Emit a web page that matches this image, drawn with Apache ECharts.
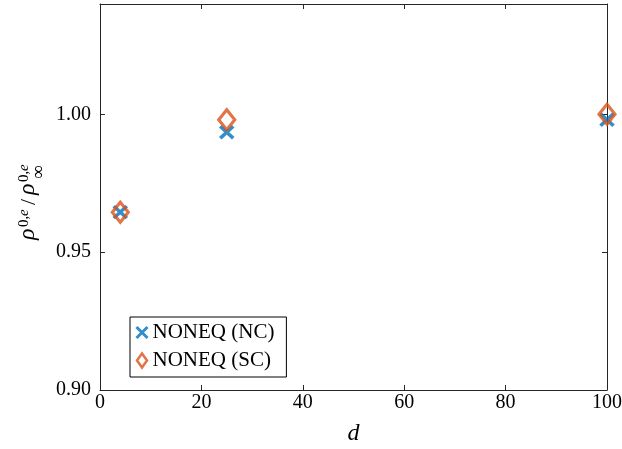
<!DOCTYPE html>
<html>
<head>
<meta charset="utf-8">
<script src="https://cdn.jsdelivr.net/npm/echarts@6/dist/echarts.min.js"></script>
<style>
  html, body { margin: 0; padding: 0; background: #fff; }
  #chart { width: 622px; height: 449px; }
</style>
</head>
<body>
<div id="chart"></div>
<script>
// Domain sizes and normalised densities
const dValues = [4, 25, 100];
const nonEqNC = [0.9645, 0.9935, 0.998];
const nonEqSC = [0.9645, 0.998, 1.000];
const xTicks = [0, 20, 40, 60, 80, 100];
const yTicks = [0.90, 0.95, 1.00];
const seriesNames = ['NONEQ (NC)', 'NONEQ (SC)'];

const BLUE = '#0072BD';
const ORANGE = '#D95319';
const AXIS = '#262626';
const FONT = '"Liberation Serif", "Times New Roman", serif';

const crossPath = 'path://M0,0L10,10M10,0L0,10';
const diamondPath = 'path://M5,0L10,7L5,14L0,7Z';

const toPairs = (xs, ys) => xs.map((x, i) => [x, ys[i]]);

const chart = echarts.init(document.getElementById('chart'), null, { renderer: 'canvas' });

const xBase = {
  type: 'value', min: 0, max: 100, interval: 20,
  axisLine: { show: true, onZero: false, lineStyle: { color: AXIS, width: 1 } },
  axisTick: { show: true, inside: true, length: 5, lineStyle: { color: AXIS } },
  splitLine: { show: false }
};
const yBase = {
  type: 'value', min: 0.90, max: 1.04, interval: 0.05,
  axisLine: { show: true, onZero: false, lineStyle: { color: AXIS, width: 1 } },
  axisTick: { show: true, inside: true, length: 5, lineStyle: { color: AXIS } },
  splitLine: { show: false }
};

// Rotated y-axis title: rho^{0,e} / rho^{0,e}_inf
const serif = (size, italic) => (italic ? 'italic ' : '') + size + 'px ' + FONT;
const txt = (text, x, y, font) => ({
  type: 'text', x: x, y: y,
  style: { text: text, font: font, fill: '#000', textVerticalAlign: 'bottom' }
});
const yTitle = {
  type: 'group',
  x: 40, y: 240,
  rotation: Math.PI / 2,
  children: [
    txt('ρ', 0, 0, serif(24, true)),
    txt('0,', 13, -8, serif(15, false)),
    txt('e', 24, -8, serif(15, true)),
    txt('/', 35, 0, serif(22, false)),
    txt('ρ', 45, 0, serif(24, true)),
    txt('0,', 58, -8, serif(15, false)),
    txt('e', 69, -8, serif(15, true)),
    txt('∞', 61, 9, serif(19, false))
  ]
};

chart.setOption({
  animation: false,
  backgroundColor: '#fff',
  grid: { left: 100, right: 15, top: 4, bottom: 59, containLabel: false, outerBoundsMode: 'none' },
  xAxis: [
    Object.assign({}, xBase, {
      position: 'bottom',
      axisLabel: {
        show: true, margin: 3, color: '#000', fontFamily: FONT, fontSize: 20,
        formatter: v => (xTicks.indexOf(v) >= 0 ? String(v) : '')
      },
      name: 'd', nameLocation: 'middle', nameGap: 32,
      nameTextStyle: { fontFamily: FONT, fontSize: 24, fontStyle: 'italic', color: '#000' }
    }),
    Object.assign({}, xBase, { position: 'top', axisLabel: { show: false } })
  ],
  yAxis: [
    Object.assign({}, yBase, {
      position: 'left',
      axisLabel: {
        show: true, margin: 9, color: '#000', fontFamily: FONT, fontSize: 20,
        formatter: v => {
          const t = yTicks.find(t => Math.abs(t - v) < 1e-9);
          return t === undefined ? '' : t.toFixed(2);
        }
      }
    }),
    Object.assign({}, yBase, { position: 'right', axisLabel: { show: false } })
  ],
  legend: {
    left: 130, top: 317,
    orient: 'vertical',
    backgroundColor: '#fff',
    borderColor: '#000', borderWidth: 1, borderRadius: 0,
    padding: [5, 12, 6, 5],
    itemWidth: 11, itemHeight: 14, itemGap: 7, itemTextGap: 9,
    symbolKeepAspect: true,
    textStyle: { fontFamily: FONT, fontSize: 21, color: '#000' },
    data: [
      { name: seriesNames[0], icon: crossPath,
        itemStyle: { color: 'rgba(0,0,0,0)', borderColor: BLUE, borderWidth: 3 } },
      { name: seriesNames[1], icon: diamondPath,
        itemStyle: { color: 'rgba(0,0,0,0)', borderColor: ORANGE, borderWidth: 2.5 } }
    ]
  },
  graphic: [yTitle],
  series: [
    {
      name: seriesNames[0], type: 'scatter', clip: false,
      xAxisIndex: 0, yAxisIndex: 0,
      data: toPairs(dValues, nonEqNC),
      symbol: crossPath, symbolSize: [13, 12],
      itemStyle: { color: 'rgba(0,0,0,0)', borderColor: BLUE, borderWidth: 3.5 },
      z: 2
    },
    {
      name: seriesNames[1], type: 'scatter', clip: false,
      xAxisIndex: 0, yAxisIndex: 0,
      data: toPairs(dValues, nonEqSC),
      symbol: diamondPath, symbolSize: [16, 20],
      itemStyle: { color: 'rgba(0,0,0,0)', borderColor: ORANGE, borderWidth: 3.2 },
      z: 3
    }
  ]
});
</script>
</body>
</html>
